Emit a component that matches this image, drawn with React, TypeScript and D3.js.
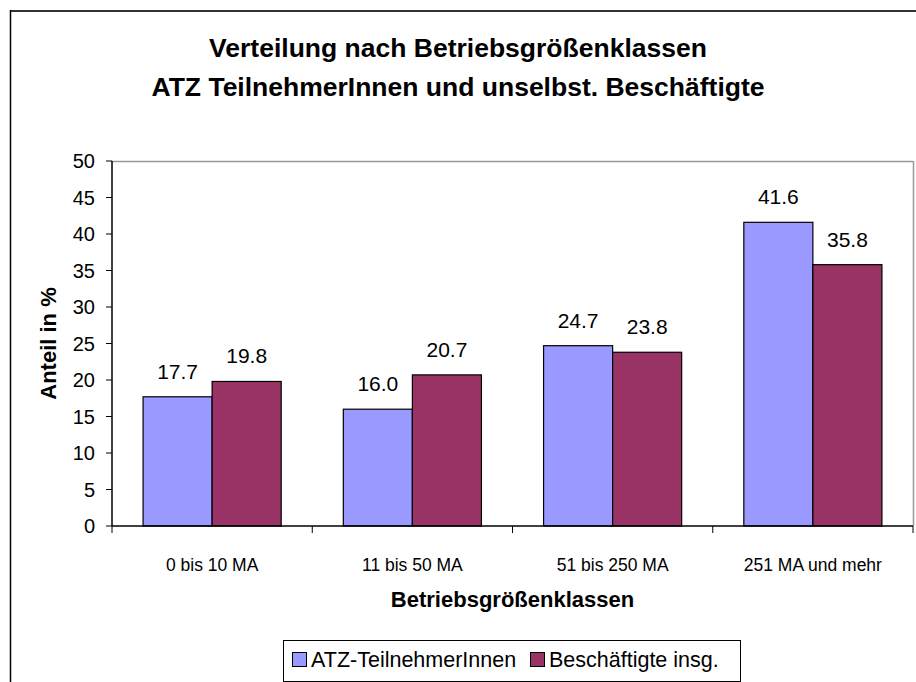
import React from "react";
import * as d3 from "d3";

const categories = ["0 bis 10 MA", "11 bis 50 MA", "51 bis 250 MA", "251 MA und mehr"];
const seriesNames = ["ATZ-TeilnehmerInnen", "Beschäftigte insg."];
const atzValues = [17.7, 16.0, 24.7, 41.6];
const beschValues = [19.8, 20.7, 23.8, 35.8];
const yTicks = [0, 5, 10, 15, 20, 25, 30, 35, 40, 45, 50];
const colors = ["#9999FF", "#993366"];

const W = 916;
const H = 682;
const plot = { left: 112, right: 913, top: 161, bottom: 526 };
const font = "'Liberation Sans', Arial, sans-serif";

export default function App() {
  const x = d3.scaleBand<string>().domain(categories).range([plot.left, plot.right]).paddingInner(0).paddingOuter(0);
  const inner = d3.scaleBand<string>().domain(seriesNames).range([0, x.bandwidth()]).paddingInner(0).paddingOuter(0.45);
  const y = d3.scaleLinear().domain([0, 50]).range([plot.bottom, plot.top]);
  const series = [atzValues, beschValues];
  const boundaries = categories.map((c) => x(c) as number).concat([plot.right]);

  return (
    <svg width={W} height={H} style={{ position: "absolute", left: 0, top: 0, background: "#fff" }} fontFamily={font}>
      <rect x={0} y={0} width={W} height={H} fill="#fff" />
      {/* outer border */}
      <line x1={10} y1={11} x2={W + 5} y2={11} stroke="#333" strokeWidth={2} />
      <line x1={10.5} y1={10} x2={10.5} y2={H + 5} stroke="#000" strokeWidth={1.5} />

      {/* title */}
      <text x={458} y={57} textAnchor="middle" fontSize={26.5} fontWeight="bold">Verteilung nach Betriebsgrößenklassen</text>
      <text x={458} y={96} textAnchor="middle" fontSize={26.5} fontWeight="bold">ATZ TeilnehmerInnen und unselbst. Beschäftigte</text>

      {/* plot frame (top & right gray) */}
      <line x1={plot.left} y1={plot.top + 0.5} x2={plot.right} y2={plot.top + 0.5} stroke="#999" strokeWidth={1.5} />
      <line x1={plot.right + 0.5} y1={plot.top} x2={plot.right + 0.5} y2={plot.bottom} stroke="#999" strokeWidth={1.5} />

      {/* bars */}
      {series.map((vals, si) =>
        vals.map((v, ci) => {
          const bx = (x(categories[ci]) as number) + (inner(seriesNames[si]) as number);
          const bw = inner.bandwidth();
          return (
            <g key={`${si}-${ci}`}>
              <rect x={bx} y={y(v)} width={bw} height={plot.bottom - y(v)} fill={colors[si]} stroke="#000" strokeWidth={1.2} />
              <text x={bx + bw / 2} y={y(v) - 18} textAnchor="middle" fontSize={21}>{v.toFixed(1)}</text>
            </g>
          );
        })
      )}

      {/* y axis */}
      <line x1={plot.left} y1={plot.top} x2={plot.left} y2={plot.bottom} stroke="#000" strokeWidth={1.5} />
      {yTicks.map((t) => (
        <g key={t}>
          <line x1={plot.left - 6} y1={y(t)} x2={plot.left} y2={y(t)} stroke="#000" strokeWidth={1} />
          <text x={plot.left - 17} y={y(t) + 7} textAnchor="end" fontSize={20}>{t}</text>
        </g>
      ))}

      {/* x axis */}
      <line x1={plot.left} y1={plot.bottom} x2={plot.right} y2={plot.bottom} stroke="#000" strokeWidth={1.5} />
      {boundaries.map((b, i) => (
        <line key={i} x1={b} y1={plot.bottom} x2={b} y2={plot.bottom + 7} stroke="#000" strokeWidth={1} />
      ))}
      {categories.map((c) => (
        <text key={c} x={(x(c) as number) + x.bandwidth() / 2} y={571} textAnchor="middle" fontSize={17.5}>{c}</text>
      ))}

      {/* axis titles */}
      <text x={(plot.left + plot.right) / 2} y={607} textAnchor="middle" fontSize={22} fontWeight="bold">Betriebsgrößenklassen</text>
      <text transform={`translate(56, ${(plot.top + plot.bottom) / 2}) rotate(-90)`} textAnchor="middle" fontSize={22} fontWeight="bold">Anteil in %</text>

      {/* legend */}
      <rect x={283.5} y={640.5} width={457} height={41} fill="#fff" stroke="#000" strokeWidth={1} />
      <rect x={292.5} y={652.5} width={14} height={14} fill={colors[0]} stroke="#000" strokeWidth={1} />
      <text x={311} y={667} fontSize={21.5}>{seriesNames[0]}</text>
      <rect x={530.5} y={652.5} width={14} height={14} fill={colors[1]} stroke="#000" strokeWidth={1} />
      <text x={549} y={667} fontSize={21.5}>{seriesNames[1]}</text>
    </svg>
  );
}
